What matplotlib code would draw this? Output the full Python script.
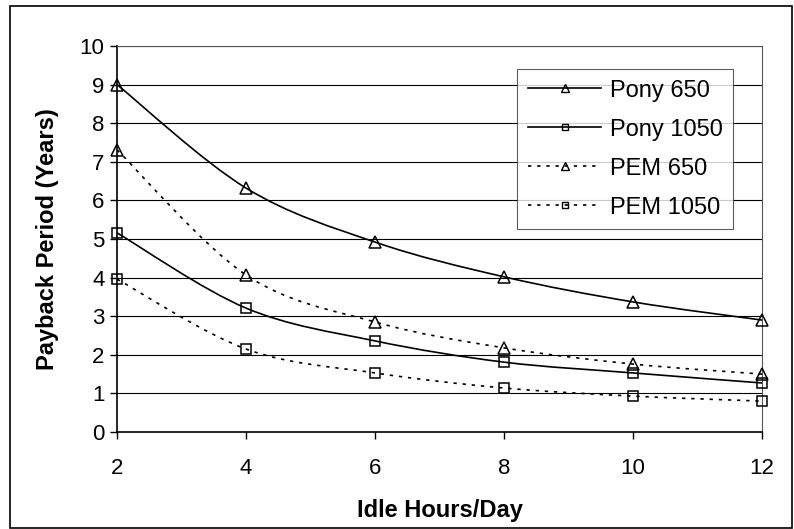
import numpy as np
import matplotlib.pyplot as plt
from matplotlib.path import Path
from matplotlib.patches import PathPatch, Rectangle
from matplotlib.lines import Line2D

plt.rcParams['font.family'] = ['Liberation Sans', 'DejaVu Sans']

hours = [2, 4, 6, 8, 10, 12]
pony_650 = [9.0, 6.32, 4.92, 4.02, 3.37, 2.90]
pony_1050 = [5.16, 3.21, 2.36, 1.81, 1.53, 1.27]
pem_650 = [7.31, 4.07, 2.85, 2.18, 1.76, 1.50]
pem_1050 = [3.96, 2.15, 1.53, 1.14, 0.93, 0.80]

series = [
    ('Pony 650', pony_650, '^', '-'),
    ('Pony 1050', pony_1050, 's', '-'),
    ('PEM 650', pem_650, '^', (0, (2, 3.5))),
    ('PEM 1050', pem_1050, 's', (0, (2, 3.5))),
]


def smooth_path(x, y):
    # Catmull-Rom style bezier through the points (spreadsheet smoothing)
    x = np.asarray(x, float)
    y = np.asarray(y, float)
    n = len(x)
    verts = [(x[0], y[0])]
    codes = [Path.MOVETO]
    for i in range(n - 1):
        p0 = (x[max(i - 1, 0)], y[max(i - 1, 0)])
        p1 = (x[i], y[i])
        p2 = (x[i + 1], y[i + 1])
        p3 = (x[min(i + 2, n - 1)], y[min(i + 2, n - 1)])
        c1 = (p1[0] + (p2[0] - p0[0]) / 6, p1[1] + (p2[1] - p0[1]) / 6)
        c2 = (p2[0] - (p3[0] - p1[0]) / 6, p2[1] - (p3[1] - p1[1]) / 6)
        verts += [c1, c2, p2]
        codes += [Path.CURVE4] * 3
    return Path(verts, codes)


fig = plt.figure(figsize=(7.94, 5.29), dpi=100)
fig.patches.append(Rectangle((10 / 794, 0.002), 782 / 794, 1 - 6 / 529 - 0.002,
                             transform=fig.transFigure, fill=False,
                             edgecolor='black', lw=1.2))
ax = fig.add_axes([117 / 794, 1 - 432 / 529, 645 / 794, 386 / 529])

handles = []
for name, vals, mk, ls in series:
    ax.add_patch(PathPatch(smooth_path(hours, vals), fill=False, edgecolor='black',
                           lw=1.2, linestyle=ls, zorder=3))
    ax.plot(hours, vals, linestyle='none', marker=mk, markersize=8 if mk == '^' else 7,
            markerfacecolor='none', markeredgecolor='black', markeredgewidth=1.1,
            zorder=4, clip_on=False)
    handles.append(Line2D([], [], color='black', lw=1.2, linestyle=ls, marker=mk,
                          markersize=6 if mk == '^' else 5, markerfacecolor='none',
                          markeredgecolor='black', markeredgewidth=1.0))

ax.set_xlim(2, 12)
ax.set_ylim(0, 10)
ax.set_xticks(hours)
ax.set_yticks(range(0, 11))
ax.grid(axis='y', color='black', lw=0.8)
ax.set_axisbelow(True)
for side in ['top', 'right']:
    ax.spines[side].set_color('#555555')
    ax.spines[side].set_linewidth(0.8)
for side in ['left', 'bottom']:
    ax.spines[side].set_linewidth(1.2)
ax.tick_params(axis='both', direction='out', length=5, width=1, labelsize=16)
ax.tick_params(axis='x', pad=14)
ax.tick_params(axis='y', pad=4)

ax.set_xlabel('Idle Hours/Day', fontsize=17, fontweight='bold', labelpad=14)
ax.set_ylabel('Payback Period (Years)', fontsize=17, fontweight='bold', labelpad=15)

leg = ax.legend(handles, [s[0] for s in series], loc='upper right',
                bbox_to_anchor=(733 / 794, 1 - 69 / 529), bbox_transform=fig.transFigure,
                fontsize=17, frameon=True, fancybox=False, handlelength=3.1,
                handletextpad=0.35, borderpad=0.45, labelspacing=0.72,
                borderaxespad=0)
leg.get_frame().set_edgecolor('#333333')
leg.get_frame().set_linewidth(0.8)

fig.savefig('out.png', dpi=100)
